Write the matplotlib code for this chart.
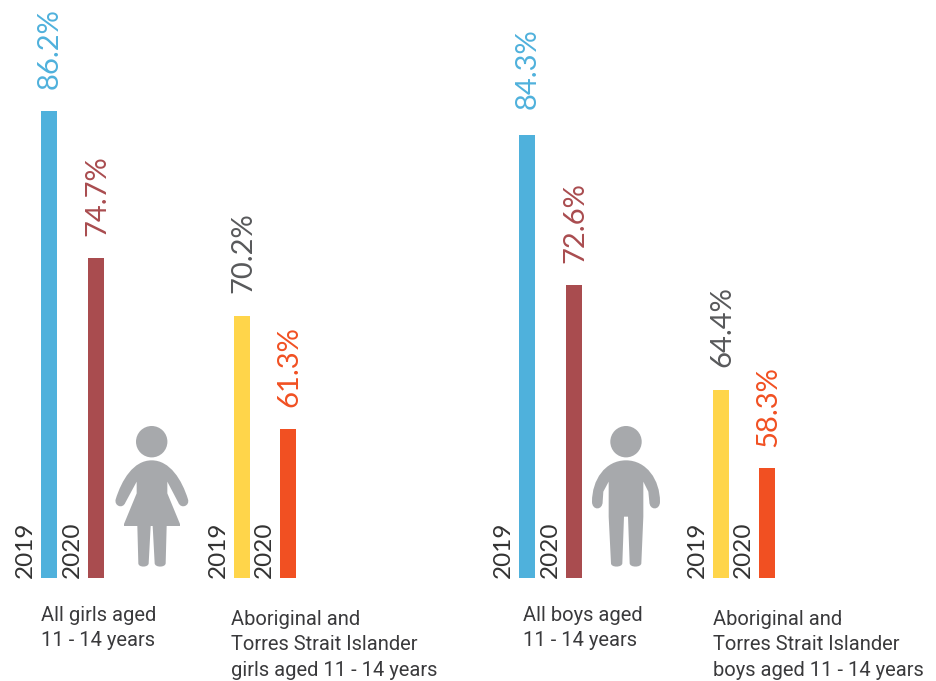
import matplotlib
matplotlib.use("Agg")
import matplotlib.pyplot as plt
from matplotlib.path import Path
from matplotlib.patches import PathPatch, Circle

# ---- data ----
groups = ["All girls", "Aboriginal girls", "All boys", "Aboriginal boys"]
values_2019 = [86.2, 70.2, 84.3, 64.4]
values_2020 = [74.7, 61.3, 72.6, 58.3]
year_labels = ["2019", "2020"]
captions = ["All girls aged\n11 - 14 years",
            "Aboriginal and\nTorres Strait Islander\ngirls aged 11 - 14 years",
            "All boys aged\n11 - 14 years",
            "Aboriginal and\nTorres Strait Islander\nboys aged 11 - 14 years"]

# ---- style / layout ----
W, H = 937, 681
FONT = "Lato"
BLUE, RED, YEL, ORG, GREY = "#4FB1DC", "#A94C4F", "#FFD54A", "#F15022", "#A7A9AC"
bar_x0 = [41, 234, 519, 713]
bar_x1 = [88, 280, 566, 759]
colors0 = [BLUE, YEL, BLUE, YEL]
colors1 = [RED, ORG, RED, ORG]
lab0 = [BLUE, "#58595B", BLUE, "#58595B"]
lab1 = [RED, ORG, RED, ORG]
gap0 = [22, 23, 26, 23]
gap1 = [22, 22, 22, 21]
cap_x = [41, 231, 523, 713]
cap_y = [606, 610, 606, 610]
BASE_PX = 577.5
PX_PER = 12.78
BASE_VAL = 49.7

fig = plt.figure(figsize=(W/100, H/100), dpi=100)
ax = fig.add_axes([0, 0, 1, 1])
ax.set_xlim(0, W)
ax.set_ylim(BASE_VAL - (H - BASE_PX)/PX_PER, BASE_VAL + BASE_PX/PX_PER)
ax.axis("off")
px = fig.add_axes([0, 0, 1, 1], facecolor="none")
px.set_xlim(0, W); px.set_ylim(H, 0); px.axis("off")

for i in range(4):
    for x, v, c, lc, yr, g in ((bar_x0[i], values_2019[i], colors0[i], lab0[i], year_labels[0], gap0[i]),
                               (bar_x1[i], values_2020[i], colors1[i], lab1[i], year_labels[1], gap1[i])):
        ax.bar(x, v - BASE_VAL, bottom=BASE_VAL, width=16, align="edge", color=c, linewidth=0)
        ax.annotate(f"{v}%", (x + 8, v), xytext=(1, g), textcoords="offset pixels",
                    rotation=90, ha="center", va="bottom", fontsize=21, color=lc,
                    family=FONT, rotation_mode="default")
        px.text(x - 16, BASE_PX, yr, rotation=90, ha="center", va="bottom",
                fontsize=17.5, color="#333333", family=FONT)
    px.text(cap_x[i], cap_y[i], captions[i], ha="left", va="top", fontsize=14.5,
            color="#3A3A3C", family="Roboto", linespacing=1.42)


def icon(pts, ox, oy):
    M, L, C = Path.MOVETO, Path.LINETO, Path.CURVE4
    verts, codes = [], []
    for seg in pts:
        if len(seg) == 2:
            verts.append(seg); codes.append(L)
        else:
            verts += [(seg[0], seg[1]), (seg[2], seg[3]), (seg[4], seg[5])]; codes += [C]*3
    codes[0] = M
    verts.append(verts[0]); codes.append(Path.CLOSEPOLY)
    verts = [(ox + a/3, oy + b/3) for a, b in verts]
    px.add_patch(PathPatch(Path(verts, codes), fc=GREY, ec="none"))

girl = [(455, 181),
        (400, 181, 365, 240, 347, 298), (342, 318, 368, 328, 376, 308),
        (410, 245), (410, 280), (372, 372), (372, 378), (412, 378), (415, 490),
        (415, 503, 445, 503, 446, 490), (452, 378), (458, 378), (464, 490),
        (465, 503, 496, 503, 497, 490), (500, 378), (540, 378), (540, 372),
        (502, 280), (502, 245), (535, 308),
        (543, 328, 570, 318, 564, 298), (546, 240, 510, 181, 455, 181)]
boy = [(438, 181),
       (375, 181, 336, 240, 336, 305), (336, 332, 368, 332, 368, 305),
       (370, 275), (386, 245), (386, 350), (393, 490),
       (393, 503, 426, 503, 427, 490), (432, 350), (444, 350), (449, 490),
       (450, 503, 483, 503, 484, 490), (490, 350), (490, 245), (505, 275),
       (508, 305), (508, 332, 540, 332, 540, 305), (540, 240, 500, 181, 438, 181)]
icon(girl, 0, 400)
icon(boy, 480, 400)
px.add_patch(Circle((151.7, 441.7), 15.7, fc=GREY, ec="none"))
px.add_patch(Circle((626, 441.7), 15.7, fc=GREY, ec="none"))

fig.savefig("out.png", dpi=100)
